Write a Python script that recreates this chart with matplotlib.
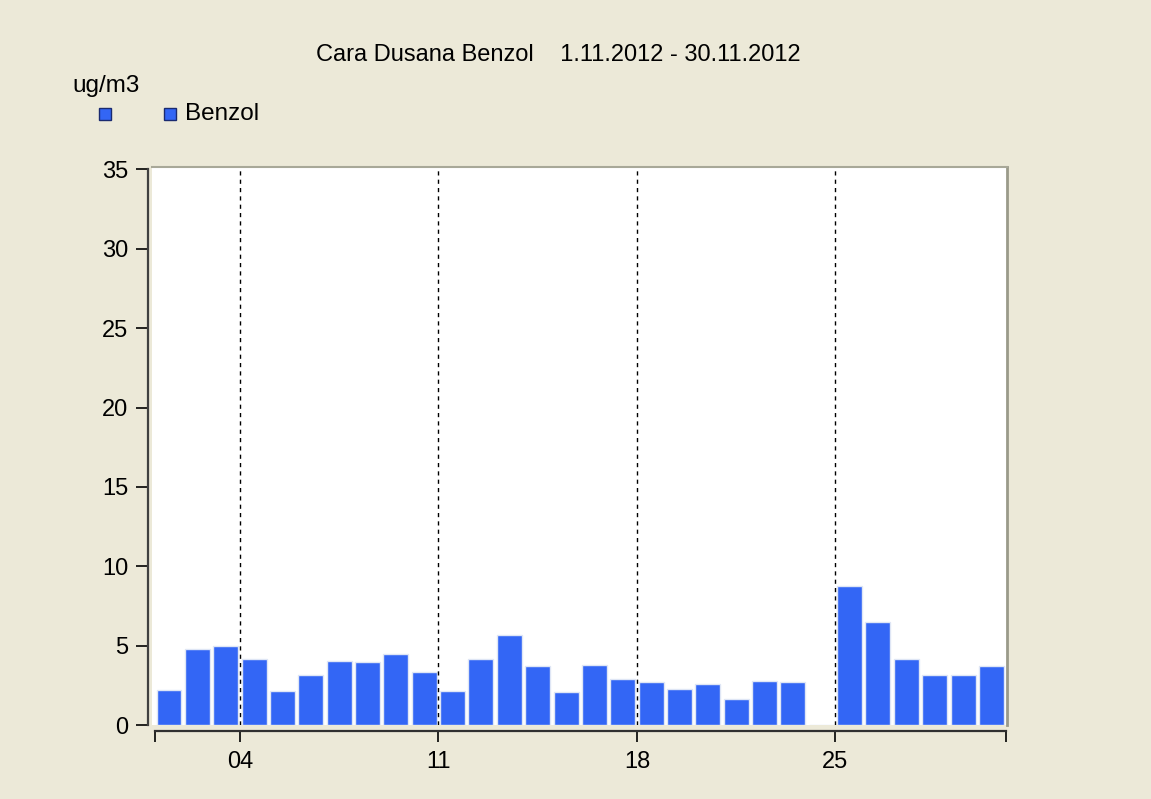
import matplotlib
matplotlib.use('Agg')
import matplotlib.pyplot as plt
from matplotlib.patches import Rectangle
import numpy as np

plt.rcParams['font.family'] = ['Liberation Sans', 'DejaVu Sans']

# Benzol daily means, November 2012 (day 24 missing)
days = list(range(1, 31))
benzol = [2.2, 4.8, 4.95, 4.15, 2.15, 3.15, 4.05, 3.95, 4.5, 3.35,
          2.15, 4.15, 5.7, 3.7, 2.1, 3.75, 2.9, 2.7, 2.25, 2.6,
          1.65, 2.8, 2.7, np.nan, 8.75, 6.5, 4.15, 3.15, 3.15, 3.7]
week_ticks = [0, 3, 10, 17, 24, 30]
week_labels = ['', '04', '11', '18', '25', '']
y_ticks = [0, 5, 10, 15, 20, 25, 30, 35]

title = 'Cara Dusana Benzol    1.11.2012 - 30.11.2012'
unit = 'ug/m3'
series_name = 'Benzol'

bg = '#ECE9D8'
bar_color = '#3366F5'
W, H = 1151, 799

fig = plt.figure(figsize=(W / 100, H / 100), dpi=100)
fig.patch.set_facecolor(bg)

ax = fig.add_axes([152 / W, (H - 725) / H, (1007 - 152) / W, (725 - 167) / H])
ax.set_facecolor('white')

x = np.array(days) - 1 + 0.06
ax.bar(x, np.nan_to_num(benzol), width=0.88, align='edge',
       color=bar_color, edgecolor='#dfe6f5', linewidth=1.0, zorder=2)

for t in week_ticks[1:-1]:
    ax.axvline(t, color='black', lw=1.0, ls=(0, (3, 3)), zorder=3)

ax.set_xlim(-0.1, 30.05)
ax.set_ylim(0, 35.15)

ax.set_xticks(week_ticks)
ax.set_xticklabels(week_labels)
ax.set_yticks(y_ticks)
ax.tick_params(axis='both', labelsize=17, colors='black', width=1.2)
ax.tick_params(axis='x', length=8, pad=7)
ax.tick_params(axis='y', length=9, pad=5)

ax.spines['left'].set_position(('outward', 3))
ax.spines['left'].set_bounds(0, 35)
ax.spines['left'].set_color('#404040')
ax.spines['left'].set_linewidth(1.6)
ax.spines['bottom'].set_position(('outward', 4))
ax.spines['bottom'].set_bounds(0, 30)
ax.spines['bottom'].set_color('#303030')
ax.spines['bottom'].set_linewidth(1.6)
ax.spines['top'].set_color('#a8a898')
ax.spines['top'].set_linewidth(1.5)
ax.spines['right'].set_color('#9a9a8a')
ax.spines['right'].set_linewidth(2)

fig.text(558 / W, 1 - 55 / H, title, ha='center', va='center', fontsize=17)
fig.text(72 / W, 1 - 86 / H, unit, ha='left', va='center', fontsize=17.5)

for px in (99, 164):
    fig.add_artist(Rectangle((px / W, 1 - 120 / H), 12 / W, 12 / H,
                             transform=fig.transFigure, facecolor=bar_color,
                             edgecolor='#1a2a70', linewidth=1))
fig.text(185 / W, 1 - 114 / H, series_name, ha='left', va='center', fontsize=17.5)

fig.savefig('out.png', dpi=100, facecolor=bg)
